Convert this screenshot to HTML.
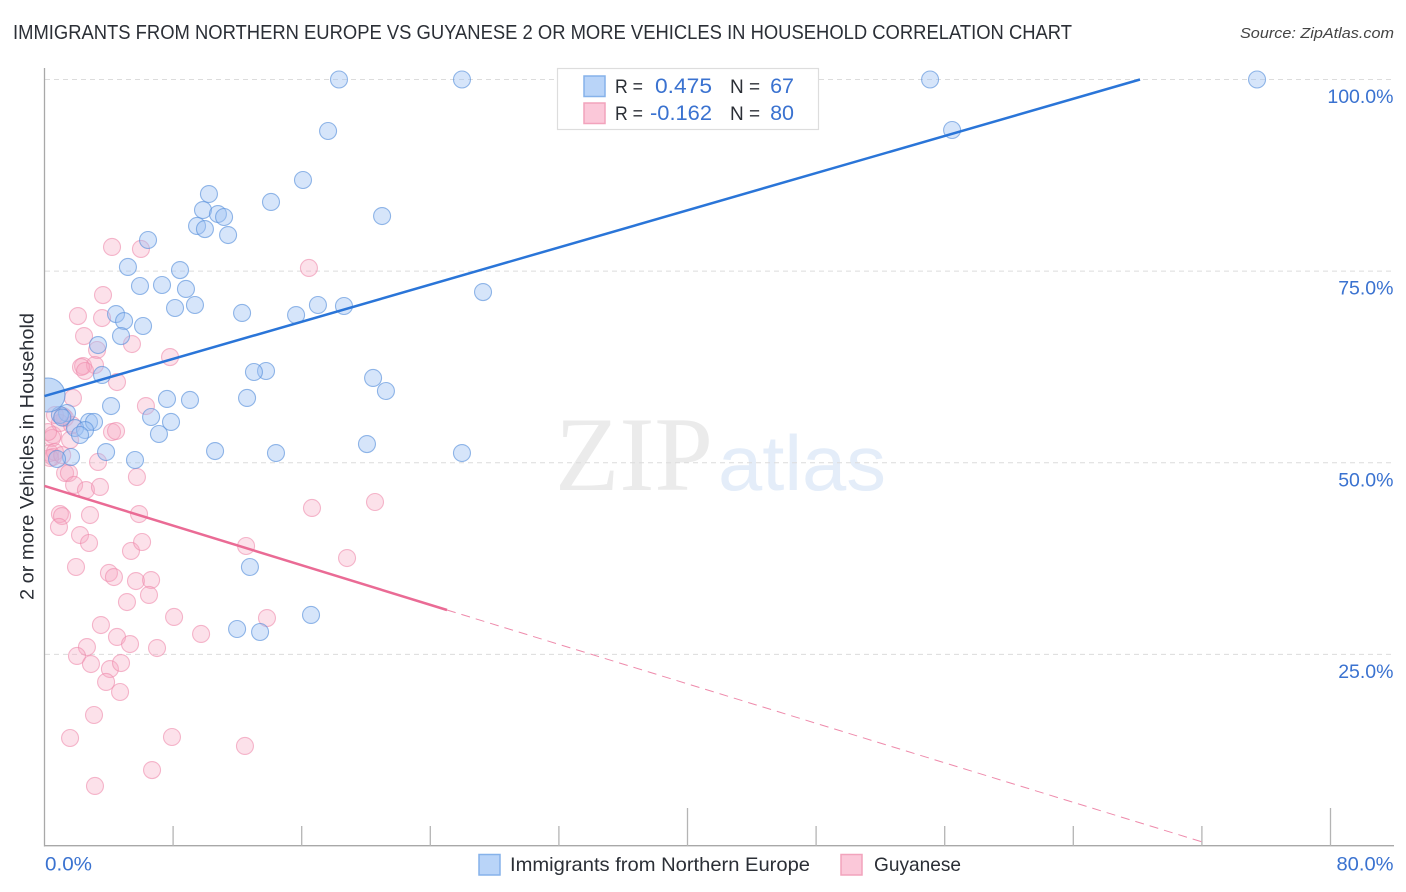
<!DOCTYPE html>
<html>
<head>
<meta charset="utf-8">
<title>Immigrants from Northern Europe vs Guyanese chart</title>
<style>
html,body{margin:0;padding:0;background:#fff;}
svg{display:block;font-family:"Liberation Sans",sans-serif;}
</style>
</head>
<body>
<svg id="chart" xmlns="http://www.w3.org/2000/svg" width="1406" height="892" viewBox="0 0 1406 892">
  <defs>
    <clipPath id="plot-clip"><rect x="45" y="60" width="1349" height="786"></rect></clipPath>
  </defs>
  <rect x="0" y="0" width="1406" height="892" fill="#ffffff"></rect>
  <text x="13" y="39" font-size="20" fill="#2b2f36" textLength="1059" lengthAdjust="spacingAndGlyphs">IMMIGRANTS FROM NORTHERN EUROPE VS GUYANESE 2 OR MORE VEHICLES IN HOUSEHOLD CORRELATION CHART</text>
  <text x="1394" y="38" font-size="15" font-style="italic" fill="#444" text-anchor="end" textLength="154" lengthAdjust="spacingAndGlyphs">Source: ZipAtlas.com</text>
  <g>
    <text x="555" y="490" font-family="'Liberation Serif',serif" font-size="106" fill="#ebebeb" textLength="158" lengthAdjust="spacingAndGlyphs">ZIP</text>
    <text x="718" y="490" font-size="78" fill="#e4edf9" textLength="168" lengthAdjust="spacingAndGlyphs">atlas</text>
  </g>
  <g id="grid"></g>
  <g id="axes"></g>
  <g id="marks" clip-path="url(#plot-clip)"></g>
  <g id="trends"></g>
  <text transform="translate(33.5,456.5) rotate(-90)" font-size="19.5" fill="#2b2f36" text-anchor="middle" textLength="287" lengthAdjust="spacingAndGlyphs">2 or more Vehicles in Household</text>
  <g>
    <rect x="557.5" y="68.5" width="261" height="61" fill="#ffffff" stroke="#dddddd" stroke-width="1.2"></rect>
    <rect x="584" y="76" width="21" height="20.5" fill="#b9d4f8" stroke="#86b2ea" stroke-width="1.5"></rect>
    <rect x="584" y="103" width="21" height="20.5" fill="#fbc8d9" stroke="#f2a3bc" stroke-width="1.5"></rect>
    <text x="615" y="93" font-size="19" fill="#2b2f36" textLength="28" lengthAdjust="spacingAndGlyphs">R =</text>
    <text x="712" y="93" font-size="21.5" fill="#3a72d0" text-anchor="end" textLength="57" lengthAdjust="spacingAndGlyphs">0.475</text>
    <text x="730" y="93" font-size="19" fill="#2b2f36">N =</text>
    <text x="794" y="93" font-size="21.5" fill="#3a72d0" text-anchor="end">67</text>
    <text x="615" y="120" font-size="19" fill="#2b2f36" textLength="28" lengthAdjust="spacingAndGlyphs">R =</text>
    <text x="712" y="120" font-size="21.5" fill="#3a72d0" text-anchor="end" textLength="62" lengthAdjust="spacingAndGlyphs">-0.162</text>
    <text x="730" y="120" font-size="19" fill="#2b2f36">N =</text>
    <text x="794" y="120" font-size="21.5" fill="#3a72d0" text-anchor="end">80</text>
  </g>
  <g>
    <rect x="479" y="854.5" width="21" height="20.5" fill="#b9d4f8" stroke="#86b2ea" stroke-width="1.5"></rect>
    <text x="510" y="871" font-size="19.5" fill="#2b2f36" textLength="300" lengthAdjust="spacingAndGlyphs">Immigrants from Northern Europe</text>
    <rect x="841" y="854.5" width="21" height="20.5" fill="#fbc8d9" stroke="#f2a3bc" stroke-width="1.5"></rect>
    <text x="874" y="871" font-size="19.5" fill="#2b2f36" textLength="87" lengthAdjust="spacingAndGlyphs">Guyanese</text>
  </g>
</svg>
<script>
const blueX = [18.32,25.97,55.09,75.43,56.46,17.64,16.08,10.23,14.09,9.86,10.79,11.17,21.00,9.49,9.98,11.42,6.44,5.19,8.43,5.94,7.31,8.80,27.28,9.36,8.12,17.01,18.63,12.29,15.65,4.45,4.95,6.13,4.76,3.33,3.58,13.78,13.03,20.44,21.24,12.60,7.62,9.05,4.14,1.40,0.96,6.63,7.87,2.77,3.08,1.90,2.52,2.21,7.12,20.06,10.61,3.83,14.40,25.97,5.63,1.65,0.78,12.78,16.58,11.98,13.41,1.10];
const blueY = [100,100,100,100,93.41,93.28,86.89,85.06,84.02,82.97,82.45,82.06,82.19,80.89,80.49,79.71,79.06,75.54,75.14,73.06,73.19,72.67,72.27,70.58,70.19,70.58,70.45,69.54,69.27,69.40,68.49,67.84,66.53,65.36,61.45,61.97,61.84,61.06,59.36,58.45,58.32,58.19,57.40,56.49,56.23,55.97,55.32,55.32,55.32,54.53,54.27,53.62,53.75,52.44,51.53,51.40,51.27,51.27,50.36,50.75,50.49,36.40,30.14,28.31,27.92,55.90];
const blueLargeX = [0.22];
const blueLargeY = [58.84];
const pinkX = [4.20,6.00,16.45,3.64,2.08,3.58,2.46,5.44,3.27,7.81,2.40,3.14,2.27,2.52,4.51,1.77,6.31,1.15,1.28,4.20,4.45,0.53,0.47,1.59,3.33,0.34,0.53,0.65,5.75,1.28,1.52,1.84,2.58,3.45,5.88,0.96,1.09,2.83,0.90,2.21,2.77,5.38,6.07,12.54,1.96,4.01,4.32,5.69,6.63,6.50,5.13,8.06,13.84,3.51,9.74,4.51,5.32,7.00,2.64,2.02,2.89,4.07,4.76,3.83,4.70,3.08,1.59,7.93,12.47,6.69,3.14,16.64,20.56,18.82,0.96,1.71,0.22,0.65,0.34,1.10];
const pinkY = [78.15,77.89,75.41,71.88,69.14,68.88,66.53,65.49,64.71,63.79,62.62,62.75,62.49,61.97,60.53,58.45,57.40,56.10,55.84,54.01,54.14,53.62,53.23,52.97,50.10,51.27,50.75,51.40,48.14,48.66,48.66,47.10,46.44,46.84,43.31,43.31,43.05,43.18,41.62,40.57,39.53,38.49,39.66,39.14,36.40,35.62,35.09,34.57,34.70,32.75,31.83,29.88,29.74,28.83,27.66,27.27,26.35,25.83,25.96,24.79,23.74,23.09,23.87,21.40,20.09,17.09,14.09,14.22,13.05,9.91,7.83,44.10,44.88,37.57,55.19,54.92,54.01,56.23,50.62,51.00];
const blueTrendX = [0, 68.15];
const blueTrendY = [58.7, 100];
const pinkTrendX = [0, 25.04];
const pinkTrendY = [46.97, 30.79];
const pinkDashX = [25.04, 72.07];
const pinkDashY = [30.79, 0.5];
const xTicks = [8,16,24,32,40,48,56,64,72,80];
const xMajorTicks = [40,80];
const xTickLabels = ["0.0%","80.0%"];
const yTicks = [25,50,75,100];
const yTickLabels = ["25.0%","50.0%","75.0%","100.0%"];

const NS = 'http://www.w3.org/2000/svg';
function xScale(v){ return 44.5 + v * 16.075; }
function yScale(v){ return 846 - v * 7.665; }
function make(tag, attrs, parent){
  const el = document.createElementNS(NS, tag);
  for (const k in attrs) el.setAttribute(k, attrs[k]);
  parent.appendChild(el);
  return el;
}
const grid = document.getElementById('grid');
const axes = document.getElementById('axes');
const marks = document.getElementById('marks');
const trends = document.getElementById('trends');

yTicks.forEach(function(t, i){
  const line = make('line', {x1:45, x2:1393, y1:yScale(t), y2:yScale(t), stroke:'#dcdcdc', 'stroke-width':1, 'stroke-dasharray':'5 4'}, grid);
  
  
  const label = make('text', {x:1393.5, y:yScale(t)+23.5, 'font-size':19.5, fill:'#3a72d0', 'text-anchor':'end'}, axes);
  
  
  label.textContent = yTickLabels[i];
});

const yAxis = make('line', {x1:44.5, x2:44.5, y1:68, y2:846.5, stroke:'#a8a8a8', 'stroke-width':1.3}, axes);


const xAxis = make('line', {x1:44, x2:1394, y1:845.7, y2:845.7, stroke:'#a8a8a8', 'stroke-width':1.3}, axes);



xTicks.forEach(function(t){
  const tall = xMajorTicks.indexOf(t) >= 0;
  const tick = make('line', {x1:xScale(t), x2:xScale(t), y1:tall ? 808 : 826, y2:846, stroke:'#b4b4b4', 'stroke-width':1.3}, axes);
  
  
});

const x0Label = make('text', {x:45, y:870.5, 'font-size':19.5, fill:'#3a72d0', textLength:47, lengthAdjust:'spacingAndGlyphs'}, axes);


x0Label.textContent = xTickLabels[0];
const x1Label = make('text', {x:1393.5, y:870.5, 'font-size':19.5, fill:'#3a72d0', 'text-anchor':'end', textLength:57, lengthAdjust:'spacingAndGlyphs'}, axes);


x1Label.textContent = xTickLabels[1];

pinkX.forEach(function(v, i){
  const c = make('circle', {cx:xScale(v), cy:yScale(pinkY[i]), r:8.5, fill:'#f7a6c0', 'fill-opacity':0.34, stroke:'#ee8aab', 'stroke-opacity':0.6, 'stroke-width':1.1}, marks);
  
  
});
blueX.forEach(function(v, i){
  const c = make('circle', {cx:xScale(v), cy:yScale(blueY[i]), r:8.5, fill:'#9dc2f2', 'fill-opacity':0.42, stroke:'#5a92dc', 'stroke-opacity':0.65, 'stroke-width':1.1}, marks);
  
  
});
blueLargeX.forEach(function(v, i){
  const c = make('circle', {cx:xScale(v), cy:yScale(blueLargeY[i]), r:17, fill:'#9dc2f2', 'fill-opacity':0.6, stroke:'#5a92dc', 'stroke-opacity':0.7, 'stroke-width':1.1}, marks);
  
  
});

const blueLine = make('line', {x1:xScale(blueTrendX[0]), y1:yScale(blueTrendY[0]), x2:xScale(blueTrendX[1]), y2:yScale(blueTrendY[1]), stroke:'#2a75d8', 'stroke-width':2.5}, trends);


const pinkLine = make('line', {x1:xScale(pinkTrendX[0]), y1:yScale(pinkTrendY[0]), x2:xScale(pinkTrendX[1]), y2:yScale(pinkTrendY[1]), stroke:'#ea6b95', 'stroke-width':2.5}, trends);


const pinkDash = make('line', {x1:xScale(pinkDashX[0]), y1:yScale(pinkDashY[0]), x2:xScale(pinkDashX[1]), y2:yScale(pinkDashY[1]), stroke:'#ee8aab', 'stroke-width':1, 'stroke-dasharray':'9 6'}, trends);


</script>
</body>
</html>
